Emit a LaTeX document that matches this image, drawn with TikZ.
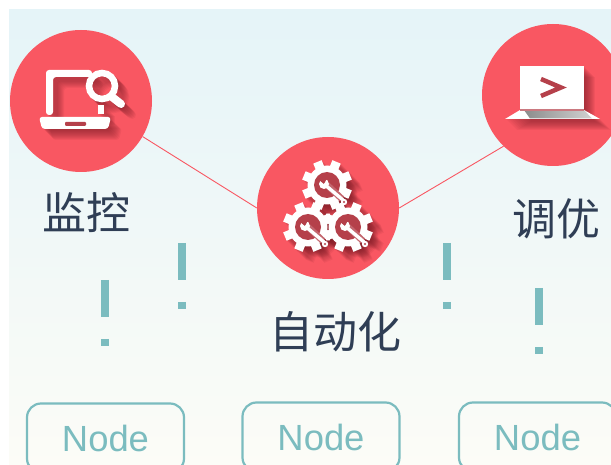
\documentclass[tikz,border=0pt]{standalone}
\usepackage{fontspec}
\setmainfont{Liberation Sans}
\newfontfamily\cjk{Noto Sans CJK SC}
\usepackage{tikz}
\definecolor{topblue}{HTML}{E5F4F8}
\definecolor{midgreen}{HTML}{F2F7F0}
\definecolor{lowcream}{HTML}{FCFCF7}
\definecolor{coral}{HTML}{F95762}
\definecolor{deepred}{HTML}{B5404A}
\definecolor{shadered}{HTML}{7A1C26}
\definecolor{tealish}{HTML}{7BBCBF}
\definecolor{slate}{HTML}{2F3E55}
\tikzstyle{disc} = [circle, fill=coral, minimum size=142pt, inner sep=0pt]
\tikzstyle{caption} = [text=slate, font=\cjk\fontsize{44}{48}\selectfont, inner sep=0pt]
\tikzstyle{box} = [rectangle, draw=tealish, line width=2.2pt, rounded corners=14pt, minimum width=157pt, minimum height=69pt, text=tealish, font=\fontsize{36.4}{40}\selectfont, inner sep=0pt]
\tikzstyle{link} = [coral, line width=0.9pt]
\tikzstyle{bar} = [tealish, line width=8pt, dash pattern=on 37pt off 22pt on 8pt]
% icon parts, px coordinates of the whole page
\newcommand{\softshadow}[1]{\foreach \s in {1,...,11}{\begin{scope}[shift={(\s*1.0,\s*1.0)},opacity=0.08]#1{shadered}\end{scope}}}
\newcommand{\searchshape}[1]{
  \fill[#1,rounded corners=3] (46,115) -- (46,70) -- (92,70) -- (92,77) -- (53,77) -- (53,115) -- cycle;
  \fill[#1] (98,105) rectangle (104,114);
  \fill[#1,rounded corners=3] (39,117) -- (111,117) -- (108,129) -- (42,129) -- cycle;
  \draw[#1,line width=6.5pt] (102,86) circle (13);
  \draw[#1,line width=8pt,line cap=round] (112,97) -- (121,104);
}
\newcommand{\screenshape}[1]{
  \fill[#1] (520,66) rectangle (584,109);
  \fill[#1] (520,110) -- (584,110) -- (600,119) -- (505,119) -- cycle;
}
\newcommand{\gearshape}[3]{
  \fill[#3] (#1,#2) circle (19.5);
  \foreach \a in {0,45,...,315}{\draw[#3,line width=9pt] (#1,#2) -- ++(\a+22.5:25);}
}
\newcommand{\gearinner}[2]{
  \fill[deepred] (#1,#2) circle (13);
  \draw[deepred!80!white,line width=6.5pt] (#1,#2) -- (#1+15,#2+14);
  \fill[white] (#1-3,#2-1) circle (5);
  \fill[deepred] (#1-8,#2-5) -- (#1-3,#2-1) -- (#1,#2-7) -- cycle;
  \draw[white,line width=3.4pt] (#1-3,#2-1) -- (#1+16,#2+15);
  \fill[white] (#1+17,#2+17) circle (3.2);
  \fill[deepred] (#1+17,#2+17) circle (1.2);
}
\begin{document}
\begin{tikzpicture}
  \useasboundingbox (0pt,0pt) rectangle (611pt,-465pt);
  \shade[top color=topblue, middle color=midgreen, bottom color=lowcream] (9pt,-10pt) rectangle (611pt,-465pt);
  \draw (81.0pt, -101.0pt)node[disc](0){};
  \draw (328.0pt, -208.0pt)node[disc](1){};
  \draw (553.0pt, -95.0pt)node[disc](2){};
  \draw (86.0pt, -213.0pt)node[caption](3){监控};
  \draw (335.0pt, -332.0pt)node[caption](4){自动化};
  \draw (556.0pt, -219.0pt)node[caption](5){调优};
  \draw (105.5pt, -438.0pt)node[box](6){Node};
  \draw (321.0pt, -437.0pt)node[box](7){Node};
  \draw (537.5pt, -437.0pt)node[box](8){Node};
  \coordinate (9) at (105pt,-280pt);
  \coordinate (10) at (105pt,-346pt);
  \coordinate (11) at (182pt,-243pt);
  \coordinate (12) at (182pt,-309pt);
  \coordinate (13) at (447pt,-243pt);
  \coordinate (14) at (447pt,-309pt);
  \coordinate (15) at (539pt,-288pt);
  \coordinate (16) at (539pt,-354pt);
  \draw[link] (0.-30) -- (1.west);
  \draw[link] (1.east) -- (2.226);
  \draw[bar] (9) -- (10);
  \draw[bar] (11) -- (12);
  \draw[bar] (13) -- (14);
  \draw[bar] (15) -- (16);
  \begin{scope}[x=1pt,y=-1pt]
    \softshadow{\searchshape}
    \searchshape{white}
    \fill[deepred,rounded corners=1] (65,122) rectangle (86,126);
    \softshadow{\screenshape}
    \screenshape{white}
    \shade[left color=black!45, right color=black!18] (524,110) -- (584,110) -- (592,118.5) -- (530,118.5) -- cycle;
    \fill[deepred!70] (520,109) rectangle (584,111);
    \draw[deepred,line width=4.5pt] (541,79) -- (561,87.5) -- (541,96);
    \softshadow{\gearshape{327}{185}}
    \softshadow{\gearshape{308}{227}}
    \softshadow{\gearshape{348}{227}}
    \gearshape{327}{185}{white}
    \gearshape{308}{227}{white}
    \gearshape{348}{227}{white}
    \gearinner{327}{185}
    \gearinner{308}{227}
    \gearinner{348}{227}
  \end{scope}
\end{tikzpicture}
\end{document}
